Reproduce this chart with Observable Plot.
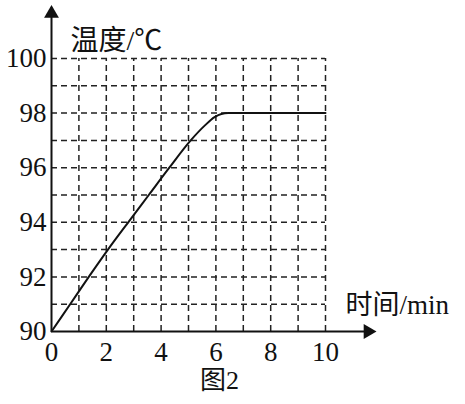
<!DOCTYPE html>
<html>
<head>
<meta charset="utf-8">
<script src="https://cdn.jsdelivr.net/npm/d3@7"></script>
<script src="https://cdn.jsdelivr.net/npm/@observablehq/plot@0.6"></script>
<style>
  html, body { margin: 0; padding: 0; background: #fff; }
  #chart svg { display: block; }
</style>
</head>
<body>
<div id="chart"></div>
<script>
// Data
const timeMin = [0, 0.68, 1.36, 2.06, 2.8, 3.55, 4.3, 5.08, 5.6, 5.95, 6.2, 6.45, 10];
const tempC   = [90, 91, 92, 93, 94, 95, 96, 97, 97.55, 97.85, 97.97, 98, 98];
const xTicks = [0, 2, 4, 6, 8, 10];
const yTicks = [90, 92, 94, 96, 98, 100];
const xGrid = [1, 2, 3, 4, 5, 6, 7, 8, 9, 10];
const yGrid = [91, 92, 93, 94, 95, 96, 97, 98, 99, 100];
const yLabel = "温度/℃";
const xLabel = "时间/min";
const caption = "图2";

const curve = timeMin.map((t, i) => ({t, v: tempC[i]}));
const serif = "'Times New Roman', 'Liberation Serif', 'Noto Serif', serif";
const mixed = "'Times New Roman', 'Liberation Serif', 'Noto Sans CJK SC', serif";

const chart = Plot.plot({
  width: 465,
  height: 404,
  marginLeft: 51,
  marginRight: 140,
  marginTop: 58,
  marginBottom: 73,
  x: {domain: [0, 10], axis: null},
  y: {domain: [90, 100], axis: null},
  style: {background: "#fff", color: "#111"},
  marks: [
    Plot.ruleX(xGrid, {y1: 90, y2: 100, stroke: "#222", strokeWidth: 1.5, strokeDasharray: "6,4"}),
    Plot.ruleY(yGrid, {x1: 0, x2: 10, stroke: "#222", strokeWidth: 1.5, strokeDasharray: "6,4"}),
    // tick labels
    Plot.text(xTicks, {x: d => d, y: 90, dy: 21, text: d => String(d), fontSize: 27, fontFamily: serif, fill: "#111", clip: false}),
    Plot.text(yTicks, {x: 0, y: d => d, dx: -5, textAnchor: "end", text: d => String(d), fontSize: 27, fontFamily: serif, fill: "#111", clip: false}),
    // axes lines with arrows
    Plot.link([{x1: 0, y1: 90, x2: 11.5, y2: 90}], {x1: "x1", y1: "y1", x2: "x2", y2: "y2", stroke: "#111", strokeWidth: 2, clip: false}),
    Plot.link([{x1: 0, y1: 90, x2: 0, y2: 101.6}], {x1: "x1", y1: "y1", x2: "x2", y2: "y2", stroke: "#111", strokeWidth: 2, clip: false}),
    Plot.dot([{x: 11.55, y: 90}], {x: "x", y: "y", symbol: "triangle", r: 5.5, fill: "#111", stroke: null, rotate: 90}),
    Plot.dot([{x: 0, y: 101.65}], {x: "x", y: "y", symbol: "triangle", r: 5.5, fill: "#111", stroke: null}),
    // data curve
    Plot.line(curve, {x: "t", y: "v", curve: "monotone-x", stroke: "#111", strokeWidth: 2}),
    // labels
    Plot.text([yLabel], {frameAnchor: "top-left", dx: 19, dy: -28, text: d => d, textAnchor: "start", fontSize: 28, fontFamily: mixed, fill: "#111"}),
    Plot.text([xLabel], {frameAnchor: "bottom-right", dx: 20, dy: -18, text: d => d, textAnchor: "start", fontSize: 27, fontFamily: mixed, fill: "#111"}),
    Plot.text([caption], {frameAnchor: "bottom", dx: 31, dy: 57, text: d => d, fontSize: 26, fontFamily: mixed, fill: "#111"})
  ]
});
document.getElementById("chart").appendChild(chart);
</script>
</body>
</html>
